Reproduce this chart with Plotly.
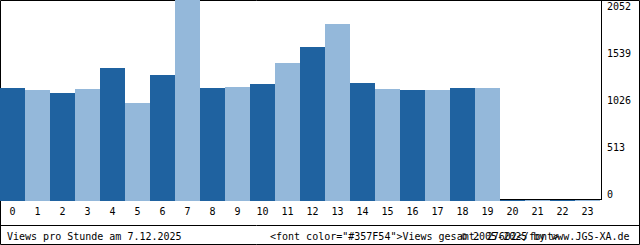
import plotly.graph_objects as go

# ---- data ----
hours = [str(h) for h in range(24)]
views = [1149, 1129, 1098, 1139, 1354, 995, 1283, 2052, 1149, 1159, 1190, 1406,
         1570, 1806, 1200, 1139, 1129, 1129, 1149, 1149, 0, 0, 0, 0]
y_ticks = [0, 513, 1026, 1539, 2052]
title_left = "Views pro Stunde am 7.12.2025"
footer_mid = '&lt;font color="#357F54"&gt;Views gesamt: 27602&lt;/font&gt;'
footer_right = "© 2005-2025 by www.JGS-XA.de"

DARK = "#1F62A0"
LIGHT = "#94B8DA"
FONT = "DejaVu Sans Mono"

W, H = 640, 245
PW, PH = 600, 201          # plot area size in px
YMAX = max(y_ticks)
YMIN = -YMAX / 200.0       # one pixel below zero

def px(x):
    return x / PW

def py(y):
    return (PH - y) / PH

colors = [DARK if i % 2 == 0 else LIGHT for i in range(len(views))]

fig = go.Figure()
fig.add_trace(go.Bar(
    x=list(range(len(views))), y=[v - YMIN for v in views], base=YMIN,
    marker=dict(color=colors, line=dict(width=0)), hoverinfo="skip",
))
fig.add_trace(go.Scatter(
    x=[0], y=[y_ticks[0]], yaxis="y2", mode="markers",
    marker=dict(opacity=0), hoverinfo="skip", showlegend=False,
))

# right axis range chosen so labels sit where the reference shows them
top_c, bot_c = 6.5, 194.5
k = YMAX / (bot_c - top_c)
y2_range = [-(PH - bot_c) * k, bot_c * k]

fig.update_layout(
    width=W, height=H,
    margin=dict(l=0, r=W - PW, t=0, b=H - PH, pad=0),
    paper_bgcolor="white", plot_bgcolor="white",
    showlegend=False, hovermode=False, bargap=0,
    font=dict(family=FONT, size=10, color="black"),
    xaxis=dict(range=[-0.5, 23.5], tickvals=list(range(24)), ticktext=hours,
               showgrid=False, zeroline=False, showline=False, ticks="",
               ticklabelstandoff=3,
               tickfont=dict(family=FONT, size=10, color="black"),
               fixedrange=True),
    yaxis=dict(range=[YMIN, YMAX], visible=False, fixedrange=True),
    yaxis2=dict(overlaying="y", side="right", range=y2_range,
                tickvals=y_ticks, ticktext=[str(t) for t in y_ticks],
                showgrid=False, zeroline=False, showline=False, ticks="",
                ticklabelstandoff=6,
                tickfont=dict(family=FONT, size=10, color="black"),
                fixedrange=True),
    shapes=[
        dict(type="rect", xref="paper", yref="paper", layer="below",
             x0=px(0.5), x1=px(639.5), y0=py(244.5), y1=py(0.5),
             line=dict(color="black", width=1)),
        dict(type="line", xref="paper", yref="paper", layer="below",
             x0=px(0), x1=px(640), y0=py(225.5), y1=py(225.5),
             line=dict(color="black", width=1)),
        dict(type="line", xref="paper", yref="paper", layer="below",
             x0=px(601.5), x1=px(601.5), y0=py(199.5), y1=py(0),
             line=dict(color="black", width=1)),
        dict(type="line", xref="paper", yref="paper", layer="below",
             x0=px(0), x1=px(602), y0=py(199.5), y1=py(199.5),
             line=dict(color="black", width=1)),
    ],
    annotations=[
        dict(text=title_left, xref="paper", yref="paper", x=px(5), y=py(236.5),
             xanchor="left", yanchor="middle", showarrow=False,
             font=dict(family=FONT, size=10, color="black")),
        dict(text=footer_mid, xref="paper", yref="paper", x=px(268), y=py(236.5),
             xanchor="left", yanchor="middle", showarrow=False,
             font=dict(family=FONT, size=10, color="black")),
        dict(text=footer_right, xref="paper", yref="paper", x=px(632), y=py(236.5),
             xanchor="right", yanchor="middle", showarrow=False,
             font=dict(family=FONT, size=10, color="black")),
    ],
)

fig.write_html("out.html", config={"displayModeBar": False})
